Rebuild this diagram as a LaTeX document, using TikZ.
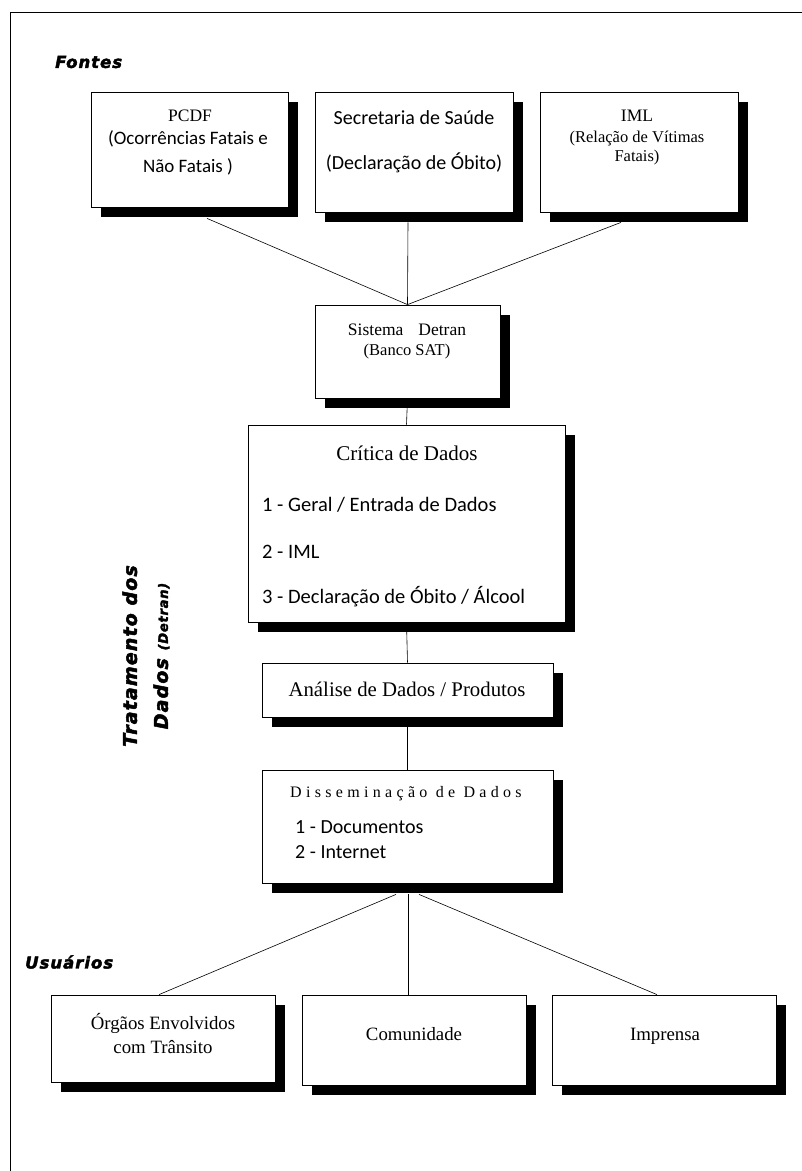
\documentclass[tikz,border=0pt]{standalone}
\usepackage{fontspec}
\setmainfont{Liberation Serif}
\newfontfamily\calibfont{Carlito}
\newfontfamily\spacedfont{Liberation Serif}[LetterSpace=27]
\newfontfamily\headfont{DejaVu Sans}[LetterSpace=6,FakeBold=2.5]
\usetikzlibrary{shadows,calc,backgrounds}

\tikzset{
  box/.style={draw, fill=white, line width=0.8pt, inner sep=0pt,
    general shadow={fill=black, shadow xshift=10pt, shadow yshift=-10pt}},
  link/.style={line width=0.6pt},
  head/.style={inner sep=0pt, font=\headfont\bfseries\itshape\fontsize{16.5}{19}\selectfont},
  txt/.style={inner sep=0pt, anchor=base},
}

\begin{document}
\begin{tikzpicture}[x=1pt,y=1pt,yscale=-1]
\useasboundingbox (0,0) rectangle (802,1171);

%Straight Lines: frame
\draw [line width=1pt] (10,1171) -- (10,12) -- (802,12);

% Text Node
\node [head, anchor=west] (fontes) at (55,62) {Fontes};
% Text Node
\node [head, anchor=west] (usuarios) at (25,962) {Usuários};
% Text Node
\node [inner sep=0pt, rotate=90, align=center, font=\headfont\bfseries\itshape\fontsize{19}{31}\selectfont] (tratamento) at (146,656) {Tratamento dos\\Dados {\fontsize{13}{15}\selectfont(Detran)}};

%Shape: Rectangle
\node [box, minimum width=197, minimum height=115] (pcdf) at (189.5,149.5) {};
%Shape: Rectangle
\node [box, minimum width=198, minimum height=120] (saude) at (414,152) {};
%Shape: Rectangle
\node [box, minimum width=198, minimum height=120] (iml) at (639,152) {};
%Shape: Rectangle
\node [box, minimum width=185, minimum height=93] (detran) at (407.5,351.5) {};
%Shape: Rectangle
\node [box, minimum width=317, minimum height=197] (critica) at (406.5,523.5) {};
%Shape: Rectangle
\node [box, minimum width=291, minimum height=54] (analise) at (407.5,690) {};
%Shape: Rectangle
\node [box, minimum width=291, minimum height=113] (dissem) at (407.5,826.5) {};
%Shape: Rectangle
\node [box, minimum width=224, minimum height=87] (orgaos) at (163,1038.5) {};
%Shape: Rectangle
\node [box, minimum width=224, minimum height=90] (comunidade) at (414,1040) {};
%Shape: Rectangle
\node [box, minimum width=224, minimum height=90] (imprensa) at (664,1040) {};

% Text Node
\node [txt, font=\fontsize{17.5}{20}\selectfont] (pcdf-a) at (190,121) {PCDF};
\node [txt, font=\calibfont\fontsize{19}{22}\selectfont] (pcdf-b) at (188,144) {(Ocorrências Fatais e};
\node [txt, font=\calibfont\fontsize{19}{22}\selectfont] (pcdf-c) at (188,172) {Não Fatais )};
% Text Node
\node [txt, font=\calibfont\fontsize{20}{24}\selectfont] (saude-a) at (414,124) {Secretaria de Saúde};
\node [txt, font=\calibfont\fontsize{20}{24}\selectfont] (saude-b) at (414,169) {(Declaração de Óbito)};
% Text Node
\node [txt, font=\fontsize{17.5}{20}\selectfont] (iml-a) at (637,121) {IML};
\node [txt, font=\fontsize{16.5}{19}\selectfont] (iml-b) at (637,142) {(Relação de Vítimas};
\node [txt, font=\fontsize{16.5}{19}\selectfont] (iml-c) at (637,161) {Fatais)};
% Text Node
\node [txt, font=\fontsize{17.5}{20}\selectfont] (detran-a) at (407,335) {Sistema\hspace{15pt}Detran};
\node [txt, font=\fontsize{16.5}{19}\selectfont] (detran-b) at (407,355) {(Banco SAT)};
% Text Node
\node [txt, font=\fontsize{21}{24}\selectfont] (critica-a) at (407,460) {Crítica de Dados};
\node [txt, anchor=base west, font=\calibfont\fontsize{20.5}{24}\selectfont] (critica-b) at (262,511) {1 - Geral / Entrada de Dados};
\node [txt, anchor=base west, font=\calibfont\fontsize{20.5}{24}\selectfont] (critica-c) at (262,558) {2 - IML};
\node [txt, anchor=base west, font=\calibfont\fontsize{20.5}{24}\selectfont] (critica-d) at (262,603) {3 - Declaração de Óbito / Álcool};
% Text Node
\node [txt, font=\fontsize{20.8}{24}\selectfont] (analise-a) at (407,696) {Análise de Dados / Produtos};
% Text Node
\node [txt, anchor=base west, font=\spacedfont\fontsize{16}{19}\selectfont] (dissem-a) at (290,797) {Disseminação de Dados};
\node [txt, anchor=base west, font=\calibfont\fontsize{20}{24}\selectfont] (dissem-b) at (295,833) {1 - Documentos};
\node [txt, anchor=base west, font=\calibfont\fontsize{20}{24}\selectfont] (dissem-c) at (295,858) {2 - Internet};
% Text Node
\node [txt, font=\fontsize{18.8}{22}\selectfont] (orgaos-a) at (163,1029) {Órgãos Envolvidos};
\node [txt, font=\fontsize{18.8}{22}\selectfont] (orgaos-b) at (163,1053) {com Trânsito};
\node [txt, font=\fontsize{18.8}{22}\selectfont] (comunidade-a) at (414,1040) {Comunidade};
\node [txt, font=\fontsize{18.8}{22}\selectfont] (imprensa-a) at (665,1040) {Imprensa};

%Straight Lines
\begin{scope}[on background layer]
\draw [link] ($(pcdf.south)+(17.5,11)$) -- (detran.north);
\draw [link] ($(saude.south)+(-6,10)$) -- (detran.north);
\draw [link] ($(iml.south)+(-18,10)$) -- (detran.north);
\draw [link] (detran.south) -- (critica.north);
\draw [link] (critica.south) -- (analise.north);
\draw [link] (analise.south) -- (dissem.north);
\draw [link] ($(dissem.south)+(-11.5,11)$) -- ([xshift=-4pt]orgaos.north);
\draw [link] ($(dissem.south)+(0.5,11)$) -- ([xshift=-6pt]comunidade.north);
\draw [link] ($(dissem.south)+(11.5,11)$) -- ([xshift=-7pt]imprensa.north);
\end{scope}

\end{tikzpicture}
\end{document}
